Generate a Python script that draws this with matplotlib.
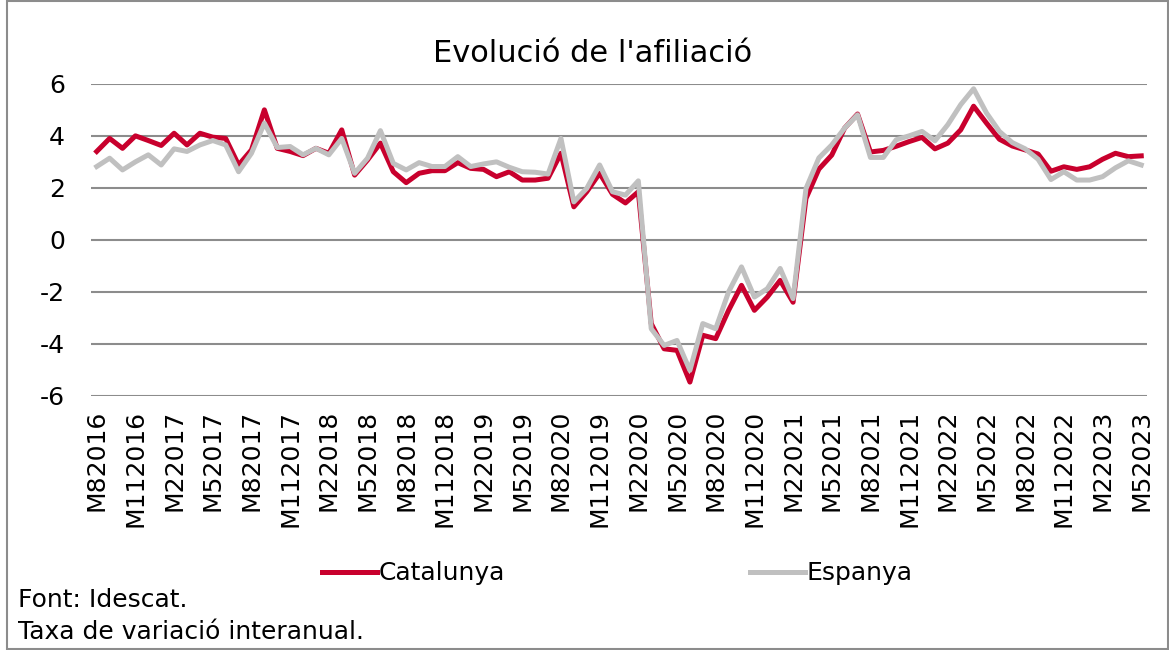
import matplotlib.pyplot as plt
from matplotlib.patches import Rectangle
import numpy as np

# x tick labels, one every 3 months (as shown in the source, typo included)
tick_labels = ["M82016", "M112016", "M22017", "M52017", "M82017", "M112017",
               "M22018", "M52018", "M82018", "M112018", "M22019", "M52019",
               "M82020", "M112019", "M22020", "M52020", "M82020", "M112020",
               "M22021", "M52021", "M82021", "M112021", "M22022", "M52022",
               "M82022", "M112022", "M22023", "M52023"]

# monthly year-on-year change, Aug 2016 .. May 2023
catalunya = [
    3.4, 3.9, 3.52, 4.0, 3.82, 3.63, 4.1, 3.65, 4.1, 3.95,
    3.9, 2.88, 3.46, 5.0, 3.52, 3.4, 3.24, 3.52, 3.33, 4.23,
    2.49, 3.07, 3.72, 2.62, 2.2, 2.56, 2.66, 2.66, 2.97, 2.75,
    2.71, 2.43, 2.62, 2.3, 2.3, 2.37, 3.33, 1.27, 1.85, 2.56,
    1.75, 1.42, 1.85, -3.22, -4.19, -4.25, -5.47, -3.67, -3.8, -2.71,
    -1.75, -2.71, -2.2, -1.56, -2.4, 1.59, 2.72, 3.26, 4.3, 4.84,
    3.38, 3.44, 3.6, 3.78, 3.94, 3.5, 3.72, 4.23, 5.14, 4.49,
    3.87, 3.61, 3.46, 3.3, 2.64, 2.81, 2.71, 2.81, 3.1, 3.33,
    3.2, 3.23]
espanya = [
    2.82, 3.14, 2.69, 3.0, 3.27, 2.88, 3.5, 3.4, 3.65, 3.82,
    3.65, 2.62, 3.33, 4.49, 3.55, 3.59, 3.27, 3.52, 3.27, 3.9,
    2.56, 3.14, 4.2, 2.94, 2.69, 2.97, 2.82, 2.82, 3.2, 2.82,
    2.92, 3.0, 2.79, 2.62, 2.6, 2.53, 3.9, 1.46, 1.98, 2.88,
    1.85, 1.72, 2.27, -3.42, -4.06, -3.87, -5.02, -3.22, -3.42, -2.0,
    -1.04, -2.2, -1.88, -1.1, -2.26, 1.97, 3.15, 3.65, 4.3, 4.81,
    3.17, 3.17, 3.85, 4.0, 4.17, 3.81, 4.43, 5.2, 5.81, 4.88,
    4.17, 3.74, 3.5, 3.1, 2.32, 2.62, 2.3, 2.3, 2.43, 2.77,
    3.04, 2.88]

red = "#c8002d"
grey = "#c0c0c0"
fs = 18

plt.rcParams["font.family"] = "DejaVu Sans"
plt.rcParams["axes.unicode_minus"] = False

fig = plt.figure(figsize=(11.69, 6.5), dpi=100)
ax = fig.add_axes([0.078, 0.391, 0.903, 0.480])

x = np.arange(len(catalunya))
ax.plot(x, catalunya, color=red, lw=3.6, label="Catalunya", zorder=3)
ax.plot(x, espanya, color=grey, lw=3.6, label="Espanya", zorder=4)

ax.set_xlim(-0.43, len(x) - 1 + 0.43)
ax.set_ylim(-6, 6)
ax.set_yticks(np.arange(-6, 7, 2))
ax.set_xticks(x[::3])
ax.set_xticklabels(tick_labels, rotation=90)
ax.tick_params(axis="both", length=0, labelsize=fs)
ax.tick_params(axis="x", pad=10)
ax.tick_params(axis="y", pad=19)
ax.grid(axis="y", color="#8c8c8c", lw=1.5)
ax.set_axisbelow(True)
for s in ax.spines.values():
    s.set_visible(False)

fig.text(0.507, 0.918, "Evolució de l'afiliació", ha="center", va="center", fontsize=22)

fig.legend(loc="center", bbox_to_anchor=(0.528, 0.118), ncol=2, frameon=False,
           fontsize=fs, handlelength=2.2, handletextpad=0.05, columnspacing=9.8)

fig.text(0.015, 0.077, "Font: Idescat.", ha="left", va="center", fontsize=fs)
fig.text(0.015, 0.028, "Taxa de variació interanual.", ha="left", va="center", fontsize=fs)

fig.patches.append(Rectangle((0.006, 0.001), 0.993, 0.997, transform=fig.transFigure,
                             fill=False, edgecolor="#8c8c8c", lw=1.5))

plt.savefig("out.png", dpi=100)
plt.close()
